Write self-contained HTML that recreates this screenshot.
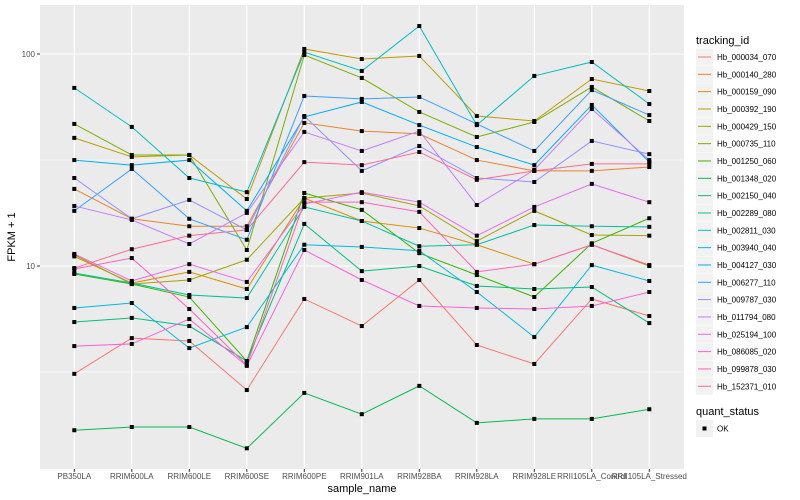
<!DOCTYPE html>
<html><head><meta charset="utf-8"><style>
body{margin:0;background:#fff;}
svg{display:block;font-family:"Liberation Sans",sans-serif;}
</style></head><body>
<svg id="chart" width="800" height="500" viewBox="0 0 800 500" xmlns="http://www.w3.org/2000/svg"></svg>
<script>
const samples = ["PB350LA","RRIM600LA","RRIM600LE","RRIM600SE","RRIM600PE","RRIM901LA","RRIM928BA","RRIM928LA","RRIM928LE","RRII105LA_Control","RRII105LA_Stressed"];
const trackingIds = ["Hb_000034_070","Hb_000140_280","Hb_000159_090","Hb_000392_190","Hb_000429_150","Hb_000735_110","Hb_001250_060","Hb_001348_020","Hb_002150_040","Hb_002289_080","Hb_002811_030","Hb_003940_040","Hb_004127_030","Hb_006277_110","Hb_009787_030","Hb_011794_080","Hb_025194_100","Hb_086085_020","Hb_099878_030","Hb_152371_010"];
const colors = ["#F8766D","#EA8331","#D89000","#C09B00","#A3A500","#7CAE00","#39B600","#00BB4E","#00BF7D","#00C1A3","#00BFC4","#00BAE0","#00B0F6","#35A2FF","#9590FF","#C77CFF","#E76BF3","#FA62DB","#FF62BC","#FF6C91"];
const s01 = [3.10,4.57,4.43,2.60,6.99,5.21,8.59,4.24,3.45,6.99,5.81];
const s02 = [23.1,16.7,15.4,15.4,47.3,43.3,42.0,31.6,28.1,28.1,29.3];
const s03 = [11.1,8.31,9.38,7.79,20.9,16.3,15.1,12.6,10.2,12.6,10.0];
const s04 = [40.2,32.7,33.4,20.7,105.6,94.7,97.9,51.0,48.3,76.2,66.9];
const s05 = [11.3,8.22,8.59,10.7,20.9,22.1,19.2,13.1,18.2,14.0,13.9];
const s06 = [46.8,33.4,33.4,11.9,98.9,77.1,53.3,40.6,47.8,69.9,48.3];
const s07 = [9.17,8.22,7.14,3.56,22.1,18.4,11.5,9.07,7.14,12.8,16.8];
const s08 = [1.68,1.74,1.74,1.38,2.52,2.00,2.72,1.82,1.90,1.90,2.11];
const s09 = [5.44,5.69,5.21,3.56,15.8,9.46,10.0,8.05,7.79,7.96,5.38];
const s10 = [9.27,8.31,7.30,7.06,19.0,16.3,12.4,12.6,15.6,15.4,15.3];
const s11 = [69.2,45.3,26.0,22.3,102,83.2,135.5,46.2,78.8,91.7,58.1];
const s12 = [6.34,6.69,4.10,5.15,12.6,12.3,11.8,7.54,4.62,10.1,8.50];
const s13 = [31.6,29.9,31.6,18.2,50.5,59.4,46.2,36.4,29.9,57.5,30.9];
const s14 = [18.2,28.7,16.7,13.3,63.4,61.4,62.7,46.8,34.9,67.6,51.5];
const s15 = [26.0,16.7,20.5,14.8,51.0,28.1,36.8,26.0,24.9,38.9,33.7];
const s16 = [19.2,16.5,12.7,17.8,42.9,34.9,43.3,19.4,28.4,55.0,31.6];
const s17 = [11.4,8.50,10.2,8.41,19.6,22.3,20.0,13.9,19.0,24.4,20.0];
const s18 = [4.19,4.29,5.62,3.38,11.9,8.59,6.48,6.34,6.27,6.48,7.54];
const s19 = [9.68,10.9,6.27,3.41,20.0,20.0,18.0,9.38,10.2,12.6,10.1];
const s20 = [9.78,12.0,13.9,14.8,30.9,29.9,34.5,25.5,28.1,30.3,30.3];
const seriesValues = [s01,s02,s03,s04,s05,s06,s07,s08,s09,s10,s11,s12,s13,s14,s15,s16,s17,s18,s19,s20];
const yTicks = [10,100];
const yTickLabels = ["10","100"];
const yMinor = [3.1623,31.623];

const NS="http://www.w3.org/2000/svg";
const svg=document.getElementById('chart');
const P={l:40,r:684,t:5,b:469};
function x(i){return 74.3+i*57.5;}
function y(v){return 266-212*Math.log10(v/10);}
function mk(tag,attrs,parent){const e=document.createElementNS(NS,tag);for(const k in attrs)e.setAttribute(k,attrs[k]);(parent||svg).appendChild(e);return e;}

const panel=mk('rect',{x:P.l,y:P.t,width:P.r-P.l,height:P.b-P.t,fill:'#EBEBEB'});


yMinor.forEach(v=>{const g=mk('line',{x1:P.l,x2:P.r,y1:y(v),y2:y(v),stroke:'#fff','stroke-width':0.5});

});
yTicks.forEach((v,i)=>{const g=mk('line',{x1:P.l,x2:P.r,y1:y(v),y2:y(v),stroke:'#fff','stroke-width':1.1});


const t=mk('line',{x1:P.l-3,x2:P.l,y1:y(v),y2:y(v),stroke:'#333','stroke-width':1});


const l=mk('text',{x:P.l-5,y:y(v)+3,'text-anchor':'end','font-size':8,fill:'#4D4D4D'});l.textContent=yTickLabels[i];

});
samples.forEach((s,i)=>{const g=mk('line',{x1:x(i),x2:x(i),y1:P.t,y2:P.b,stroke:'#fff','stroke-width':1.1});


const t=mk('line',{x1:x(i),x2:x(i),y1:P.b,y2:P.b+3,stroke:'#333','stroke-width':1});


const l=mk('text',{x:x(i),y:P.b+10,'text-anchor':'middle','font-size':8,fill:'#4D4D4D'});l.textContent=s;

});

seriesValues.forEach((vals,k)=>{
  const pl=mk('polyline',{points:vals.map((v,i)=>x(i)+','+y(v)).join(' '),fill:'none',stroke:colors[k],'stroke-width':1});
  
  
});
seriesValues.forEach((vals,k)=>{
  vals.forEach((v,i)=>{const p=mk('rect',{x:x(i)-2,y:y(v)-2,width:4,height:4,fill:'#000'});
  
  });
});

const yt=mk('text',{x:15,y:(P.t+P.b)/2,'text-anchor':'middle','font-size':11,fill:'#000',transform:'rotate(-90 15 '+((P.t+P.b)/2)+')'});yt.textContent='FPKM + 1';


const xt=mk('text',{x:(P.l+P.r)/2,y:492,'text-anchor':'middle','font-size':11,fill:'#000'});xt.textContent='sample_name';



const lt=mk('text',{x:696,y:44,'font-size':11,fill:'#000'});lt.textContent='tracking_id';


trackingIds.forEach((id,k)=>{
  const cy=57+k*17.33;
  const g=mk('g',{});
  
  
  mk('rect',{x:696,y:cy-8.5,width:17,height:17,fill:'#F2F2F2'},g);
  mk('line',{x1:698,x2:711,y1:cy,y2:cy,stroke:colors[k],'stroke-width':1},g);
  const t=mk('text',{x:717,y:cy+3,'font-size':8,fill:'#000'},g);t.textContent=id;
});
const qt=mk('text',{x:696,y:415,'font-size':11,fill:'#000'});qt.textContent='quant_status';


const og=mk('g',{});


mk('rect',{x:696,y:420,width:17,height:17,fill:'#F2F2F2'},og);
mk('rect',{x:702.5,y:426.5,width:4,height:4,fill:'#000'},og);
const ot=mk('text',{x:717,y:431.5,'font-size':8,fill:'#000'},og);ot.textContent='OK';
</script>
</body></html>
